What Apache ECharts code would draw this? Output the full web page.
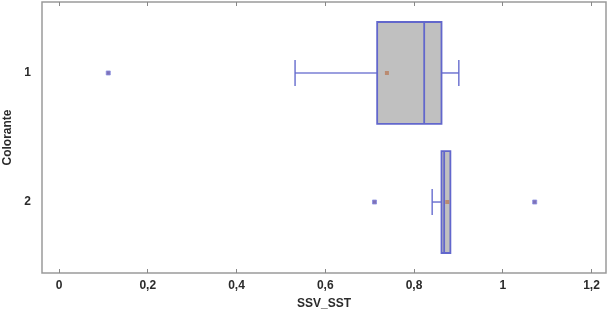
<!DOCTYPE html>
<html>
<head>
<meta charset="utf-8">
<script src="https://cdn.jsdelivr.net/npm/echarts@6/dist/echarts.min.js"></script>
<style>
  html, body { margin: 0; padding: 0; background: #fff; }
  #chart { width: 610px; height: 315px; }
</style>
</head>
<body>
<div id="chart"></div>
<script>
// categories on the vertical axis, top to bottom
var categories = ['1', '2']
// per category: [low whisker, Q1, median, Q3, high whisker]
var boxValues = [
  [0.532, 0.717, 0.823, 0.862, 0.901],
  [0.841, 0.862, 0.868, 0.882, 0.882]
]
var meanValues = [0.739, 0.875]
// outliers: [value, category index]
var outlierValues = [
  [0.111, 0],
  [0.711, 1],
  [1.072, 1]
]
var xTicks = [0, 0.2, 0.4, 0.6, 0.8, 1, 1.2]
var xTickLabels = ['0', '0,2', '0,4', '0,6', '0,8', '1', '1,2']

var boxColor = '#6267cc'
var font = 'Liberation Sans, Arial, sans-serif'

var chart = echarts.init(document.getElementById('chart'))

function renderBox(params, api) {
  var cat = api.value(0)
  var lo = api.coord([api.value(1), cat])
  var q1 = api.coord([api.value(2), cat])
  var med = api.coord([api.value(3), cat])
  var q3 = api.coord([api.value(4), cat])
  var hi = api.coord([api.value(5), cat])
  var halfBox = api.size([0, 0.395])[1]
  var halfCap = api.size([0, 0.1])[1]
  var y = lo[1]
  var lineStyle = { stroke: boxColor, lineWidth: 1.6, opacity: 0.85 }
  var children = [
    { type: 'line', shape: { x1: lo[0], y1: y, x2: q1[0], y2: y }, style: lineStyle },
    { type: 'line', shape: { x1: q3[0], y1: y, x2: hi[0], y2: y }, style: lineStyle },
    { type: 'line', shape: { x1: lo[0], y1: y - halfCap, x2: lo[0], y2: y + halfCap }, style: lineStyle },
    {
      type: 'rect',
      shape: { x: q1[0], y: y - halfBox, width: q3[0] - q1[0], height: halfBox * 2 },
      style: { fill: '#c0c0c0', stroke: boxColor, lineWidth: 1.8 }
    },
    { type: 'line', shape: { x1: med[0], y1: y - halfBox, x2: med[0], y2: y + halfBox }, style: { stroke: boxColor, lineWidth: 1.8 } }
  ]
  if (hi[0] - q3[0] > 1) {
    children.push({ type: 'line', shape: { x1: hi[0], y1: y - halfCap, x2: hi[0], y2: y + halfCap }, style: lineStyle })
  }
  return { type: 'group', children: children }
}

var axisText = { color: '#2b2b2b', fontWeight: 'bold', fontSize: 12, fontFamily: font }

chart.setOption({
  animation: false,
  grid: {
    left: 42,
    right: 4,
    top: 2,
    bottom: 42,
    outerBoundsMode: 'none',
    containLabel: false,
    show: true,
    borderColor: '#9a9a9a',
    borderWidth: 1.5
  },
  xAxis: [{
    type: 'value',
    min: -0.0383,
    max: 1.2327,
    name: 'SSV_SST',
    nameLocation: 'middle',
    nameGap: 25,
    nameTextStyle: axisText,
    axisLine: { show: false },
    splitLine: { show: false },
    axisTick: { inside: true, length: 4, customValues: xTicks, lineStyle: { color: '#888' } },
    axisLabel: Object.assign({
      margin: 7,
      customValues: xTicks,
      formatter: function (v) {
        var i = xTicks.findIndex(function (t) { return Math.abs(t - v) < 1e-6 })
        return i >= 0 ? xTickLabels[i] : ''
      }
    }, axisText)
  }, {
    type: 'value',
    position: 'top',
    min: -0.0383,
    max: 1.2327,
    axisLine: { show: false },
    splitLine: { show: false },
    axisLabel: { show: false },
    axisTick: { inside: true, length: 4, customValues: xTicks, lineStyle: { color: '#888' } }
  }],
  yAxis: {
    type: 'value',
    inverse: true,
    min: 0.45,
    max: 2.55,
    name: 'Colorante',
    nameLocation: 'middle',
    nameRotate: 90,
    nameGap: 27,
    nameTextStyle: axisText,
    axisLine: { show: false },
    splitLine: { show: false },
    axisTick: { show: false },
    axisLabel: Object.assign({
      margin: 11,
      customValues: [1, 2],
      formatter: function (v) { return categories[Math.round(v) - 1] || '' }
    }, axisText)
  },
  series: [{
    type: 'custom',
    renderItem: renderBox,
    encode: { x: [1, 2, 3, 4, 5], y: 0 },
    data: boxValues.map(function (b, i) { return [i + 1].concat(b) }),
    z: 2
  }, {
    type: 'scatter',
    symbol: 'rect',
    symbolSize: 4,
    itemStyle: { color: '#5e4ea6', borderColor: '#8a8ee0', borderWidth: 1 },
    data: outlierValues.map(function (o) { return [o[0], o[1] + 1] }),
    z: 3
  }, {
    type: 'scatter',
    symbol: 'rect',
    symbolSize: 4,
    itemStyle: { color: '#b87d5c' },
    data: meanValues.map(function (m, i) { return [m, i + 1] }),
    z: 4
  }]
})
</script>
</body>
</html>
